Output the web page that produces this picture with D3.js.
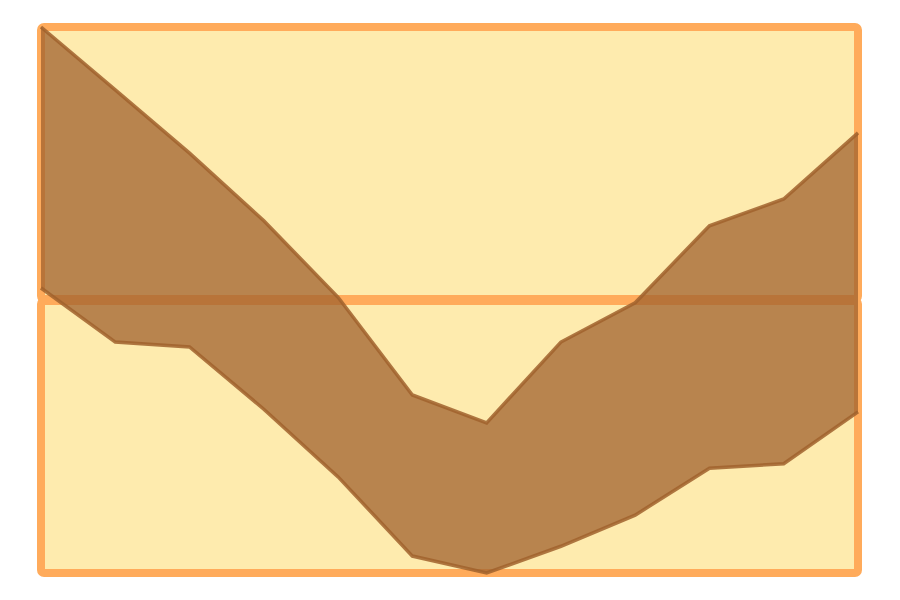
<!DOCTYPE html>
<html>
<head>
<meta charset="utf-8">
<script src="https://cdn.jsdelivr.net/npm/d3@7"></script>
<style>
html,body{margin:0;padding:0;background:#fff;}
svg{display:block;}
</style>
</head>
<body>
<svg id="chart" width="900" height="600"></svg>
<script>
const xIndex = [0,1,2,3,4,5,6,7,8,9,10,11];
const upperValues = [100, 88.5, 76.9, 64.5, 50.5, 32.6, 27.5, 42.3, 49.5, 63.6, 68.5, 80.6];
const lowerValues = [52.2, 42.3, 41.4, 30.0, 17.6, 3.1, 0, 4.9, 10.6, 19.2, 20.0, 29.5];
const zoneBounds = [[50, 100], [0, 50]];

(function(){
const svg = d3.select("#chart");
const pl = 41, pr = 858, pt = 27, pb = 573;
const gap = 1;
const x = d3.scaleLinear().domain([0, 11]).range([pl, pr]);
const y = d3.scaleLinear().domain([0, 100]).range([pb, pt]);

svg.selectAll("rect.zone").data(zoneBounds).enter().append("rect")
  .attr("class", "zone")
  .attr("x", x(0)).attr("width", x(11) - x(0))
  .attr("y", d => y(d[1]) + (d[1] < 100 ? gap : 0))
  .attr("height", d => (y(d[0]) - (d[0] > 0 ? gap : 0)) - (y(d[1]) + (d[1] < 100 ? gap : 0)))
  .attr("rx", 3).attr("ry", 3)
  .attr("fill", "#feebae")
  .attr("stroke", "#ffab5b")
  .attr("stroke-width", 8);

const data = xIndex.map((i) => ({i, u: upperValues[i], l: lowerValues[i]}));

svg.append("path").datum(data)
  .attr("d", d3.area().x(d => x(d.i)).y0(d => y(d.l)).y1(d => y(d.u)))
  .attr("fill", "#a0622d").attr("fill-opacity", 0.75);

const lineColor = "#a0622d";
svg.append("path").datum(data)
  .attr("d", d3.line().x(d => x(d.i)).y(d => y(d.u)))
  .attr("fill", "none").attr("stroke", lineColor).attr("stroke-width", 3.5).attr("stroke-opacity", 0.85);
svg.append("path").datum(data)
  .attr("d", d3.line().x(d => x(d.i)).y(d => y(d.l)))
  .attr("fill", "none").attr("stroke", lineColor).attr("stroke-width", 3.5).attr("stroke-opacity", 0.85);
})();
</script>
</body>
</html>
